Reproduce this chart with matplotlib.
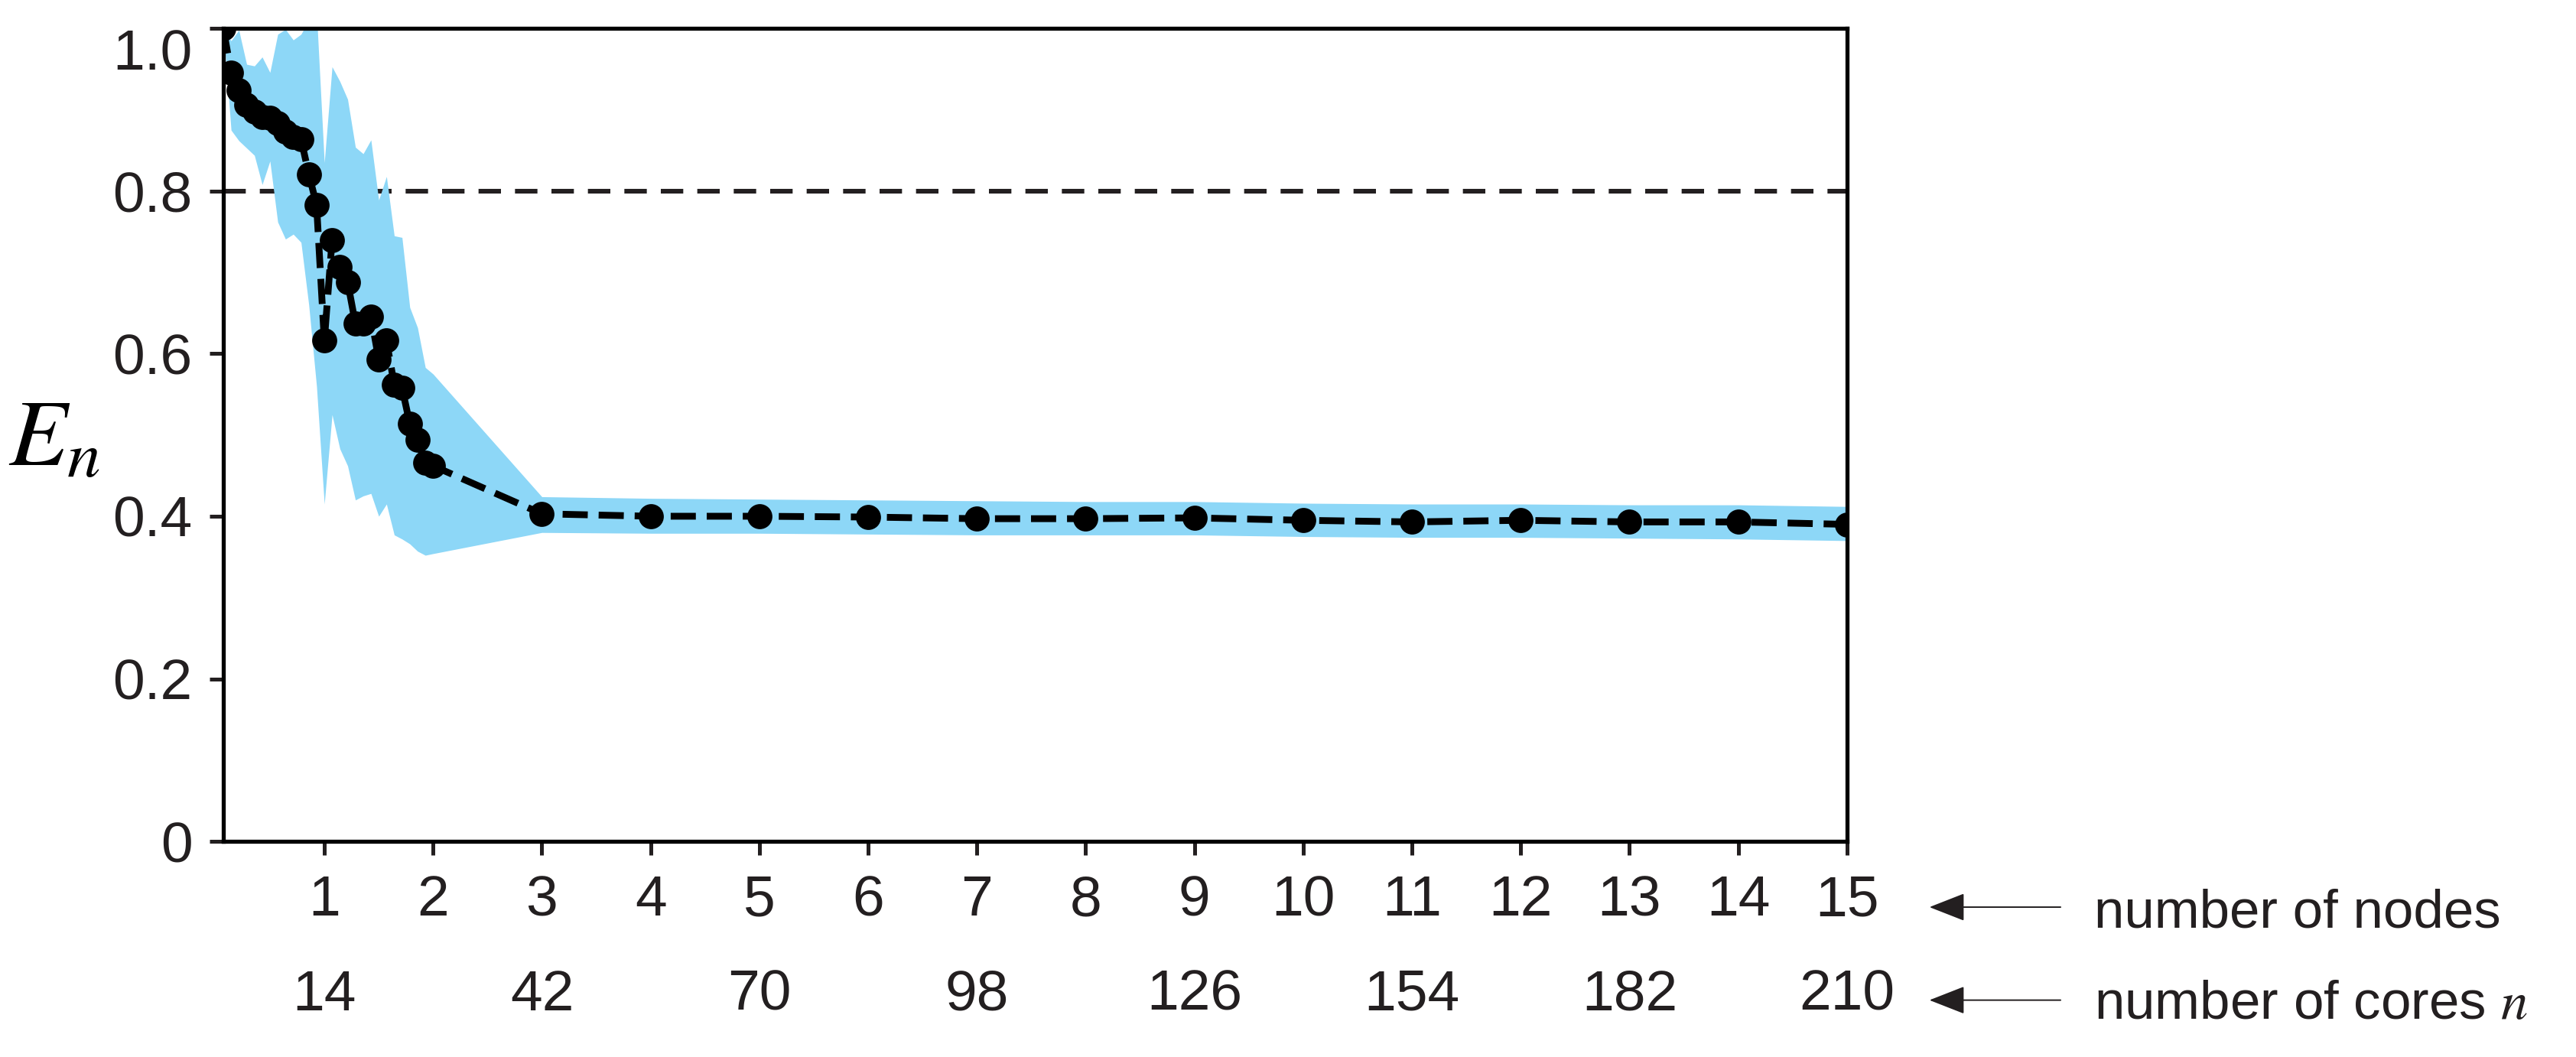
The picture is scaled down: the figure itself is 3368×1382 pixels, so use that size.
import matplotlib
matplotlib.use("Agg")
import matplotlib.pyplot as plt
from matplotlib.patches import FancyArrowPatch

plt.rcParams['font.family'] = ['Liberation Sans', 'DejaVu Sans']
plt.rcParams['mathtext.fontset'] = 'stix'

# number of cores used in each run
cores = [1, 2, 3, 4, 5, 6, 7, 8, 9, 10, 11, 12, 13, 14, 15, 16, 17, 18, 19, 20,
         21, 22, 23, 24, 25, 26, 27, 28,
         42, 56, 70, 84, 98, 112, 126, 140, 154, 168, 182, 196, 210]

# parallel efficiency E_n (mean) and its spread
eff = [1.000, 0.946, 0.924, 0.906, 0.898, 0.891, 0.890, 0.884, 0.873, 0.867,
       0.864, 0.821, 0.783, 0.616, 0.740, 0.707, 0.688, 0.637, 0.637, 0.646,
       0.593, 0.616, 0.562, 0.558, 0.514, 0.494, 0.466, 0.462,
       0.403, 0.400, 0.400, 0.399, 0.397, 0.397, 0.398, 0.395, 0.393, 0.395,
       0.393, 0.393, 0.390]
eff_high = [1.000, 0.985, 0.998, 0.956, 0.954, 0.965, 0.946, 0.993, 0.999, 0.986,
            0.993, 1.010, 1.020, 0.835, 0.953, 0.935, 0.913, 0.854, 0.846, 0.863,
            0.789, 0.818, 0.745, 0.743, 0.657, 0.632, 0.583, 0.575,
            0.424, 0.422, 0.421, 0.420, 0.419, 0.418, 0.418, 0.416, 0.415, 0.415,
            0.414, 0.414, 0.412]
eff_low = [1.000, 0.875, 0.862, 0.853, 0.844, 0.808, 0.837, 0.762, 0.741, 0.747,
           0.737, 0.660, 0.560, 0.415, 0.525, 0.483, 0.462, 0.420, 0.425, 0.428,
           0.400, 0.415, 0.377, 0.372, 0.366, 0.357, 0.352, 0.354,
           0.380, 0.379, 0.379, 0.378, 0.377, 0.377, 0.377, 0.375, 0.374, 0.374,
           0.373, 0.372, 0.370]

node_pos = [14, 28, 42, 56, 70, 84, 98, 112, 126, 140, 154, 168, 182, 196, 210]
node_labels = ['1', '2', '3', '4', '5', '6', '7', '8', '9', '10', '11', '12', '13', '14', '15']
core_pos = [14, 42, 70, 98, 126, 154, 182, 210]
core_labels = ['14', '42', '70', '98', '126', '154', '182', '210']
y_ticks = [0, 0.2, 0.4, 0.6, 0.8, 1.0]
y_labels = ['0', '0.2', '0.4', '0.6', '0.8', '1.0']

fig = plt.figure(figsize=(16.84, 6.91), dpi=200)
ax = fig.add_axes([0.0867, 0.204, 0.6303, 0.769])

ax.axhline(0.8, color='#231f20', lw=2.2, dashes=(4.8, 3.0), zorder=0.5)
ax.fill_between(cores, eff_low, eff_high, color='#8dd7f7', lw=0, zorder=1)
ax.plot(cores, eff, color='black', lw=3.2, dashes=(3.7, 1.6),
        marker='o', ms=10.8, zorder=3)

ax.set_xlim(1, 210)
ax.set_ylim(0, 1.0)
ax.set_xticks(node_pos, node_labels)
ax.set_yticks(y_ticks, y_labels)
ax.tick_params(length=6.5, width=1.8, labelsize=27, color='#231f20',
               labelcolor='#231f20')
ax.tick_params(axis='x', pad=9)
ax.tick_params(axis='y', pad=8)
ax.get_yticklabels()[-1].set_va('top')
for s in ax.spines.values():
    s.set_linewidth(1.9)

sec = ax.secondary_xaxis('bottom')
sec.set_xticks(core_pos, core_labels)
sec.tick_params(length=0, labelsize=27, pad=60, labelcolor='#231f20')
sec.spines['bottom'].set_visible(False)

ax.set_ylabel(r'$E_n$', rotation=0, fontsize=45, ha='center', va='center')
ax.yaxis.set_label_coords(-0.104, 0.494)

# arrows and axis captions on the right
for y_arr, y_txt, txt in [(0.1418, 0.123, 'number of nodes'),
                          (0.0538, 0.0362, r'number of cores $n$')]:
    arr = FancyArrowPatch((0.7999, y_arr), (0.749, y_arr), transform=fig.transFigure,
                          arrowstyle='-|>,head_length=14.8,head_width=5.8',
                          mutation_scale=1, lw=0.7, color='#231f20',
                          shrinkA=0, shrinkB=0)
    fig.patches.append(arr)
    fig.text(0.813, y_txt, txt, fontsize=25.5, va='baseline', color='#231f20')

fig.savefig('out.png', dpi=200)
